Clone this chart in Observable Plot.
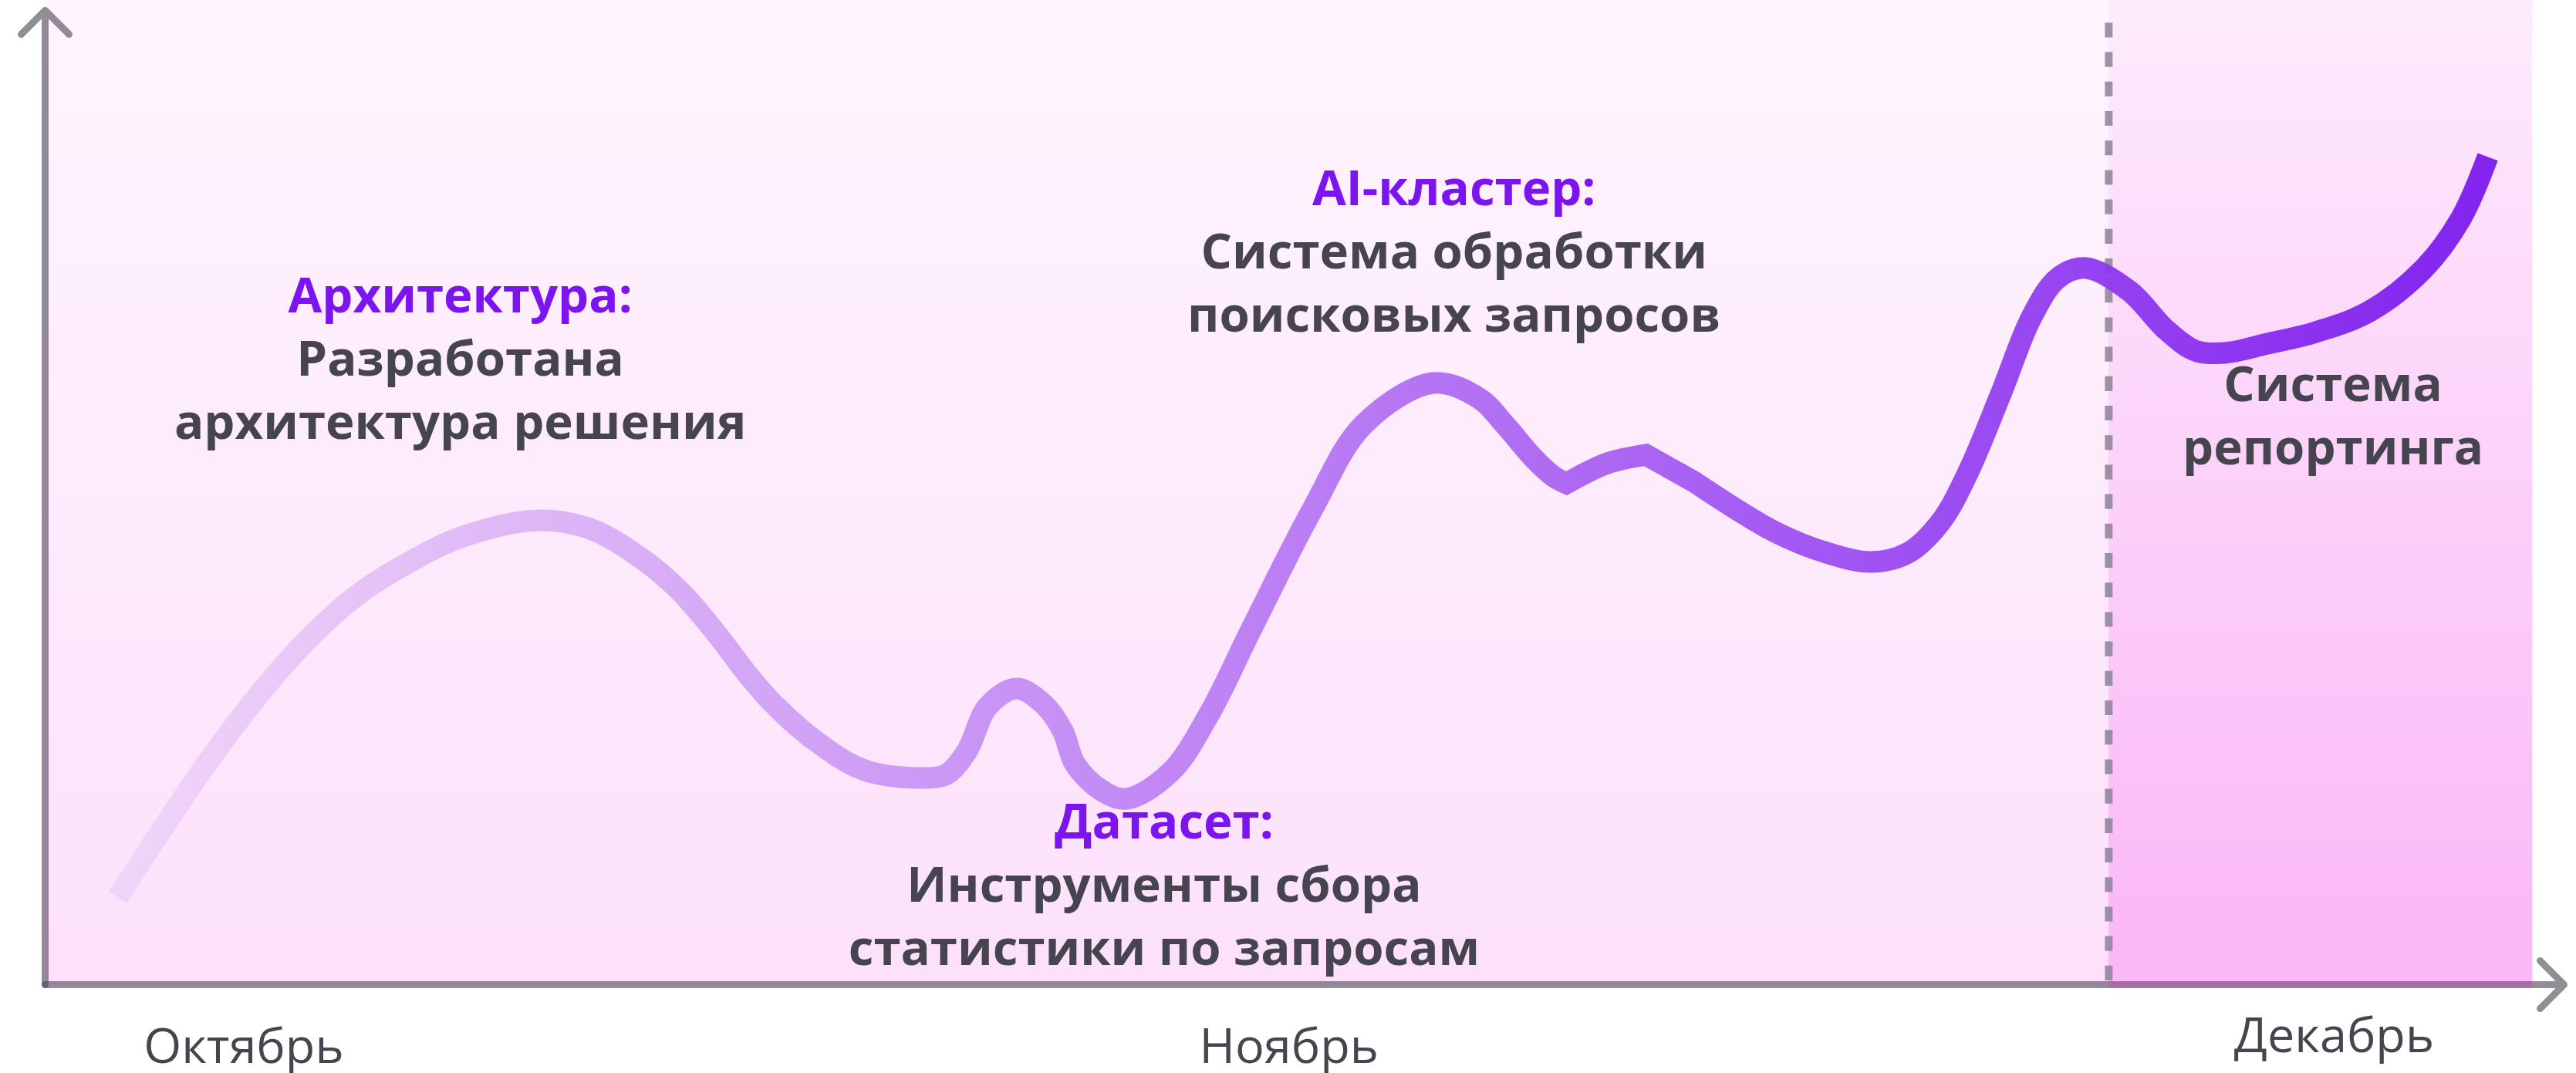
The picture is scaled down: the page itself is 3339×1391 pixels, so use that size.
<!DOCTYPE html>
<html><head><meta charset="utf-8">
<script src="https://cdn.jsdelivr.net/npm/d3@7"></script>
<script src="https://cdn.jsdelivr.net/npm/@observablehq/plot@0.6"></script>
<style>
html,body{margin:0;padding:0;background:#fff;}
#chart svg{display:block;}
</style></head><body><div id="chart"></div>
<script>
// ---- data ----
const monthNames = ["Октябрь", "Ноябрь", "Декабрь"];
const monthX = [0.95, 5.95, 10.95];

const curveX = [0.347,0.561,0.790,1.022,1.251,1.484,1.731,2.000,2.369,2.617,2.860,3.045,3.229,3.355,3.477,3.661,3.920,4.215,4.314,4.410,4.510,4.647,4.779,4.868,4.927,5.053,5.174,5.385,5.569,5.765,6.060,6.307,6.640,6.861,6.983,7.119,7.215,7.278,7.278,7.474,7.658,7.658,7.894,7.894,8.275,8.522,8.736,8.913,9.068,9.197,9.356,9.504,9.629,9.762,9.972,10.146,10.286,10.426,10.633,10.862,11.120,11.382,11.556,11.685];
const curveY = [8.95,15.99,23.20,29.77,35.31,39.83,43.23,46.00,47.66,46.71,43.63,40.22,35.55,31.99,28.98,25.42,22.01,21.22,21.62,23.99,28.58,30.40,28.74,26.05,22.64,19.95,19.08,21.85,27.79,36.26,48.69,57.48,61.76,60.17,57.48,54.08,52.18,51.46,51.46,53.52,54.39,54.39,51.54,51.54,46.48,44.34,43.39,44.34,47.51,52.49,60.65,68.57,72.53,73.56,71.18,67.22,65.08,64.85,65.80,66.98,69.12,73.56,78.62,84.96];

const milestoneTitles = ["Архитектура:", "Датасет:", "AI-кластер:", ""];
const milestoneTexts = ["Разработана\nархитектура решения", "Инструменты сбора\nстатистики по запросам", "Система обработки\nпоисковых запросов", "Система\nрепортинга"];
const milestoneX = [1.986, 5.353, 6.740, 10.945];
const milestoneY = [69.0, 15.0, 80.0, 59.9];

const xDomain = [0, 12.05];
const yDomain = [0, 100];
const forecastStart = 9.872;
const forecastEnd = 11.9;
const planeTop = 101.03;

// ---- derived tables ----
const curve = curveX.map((x, i) => ({x, y: curveY[i]}));
const milestones = milestoneX.map((x, i) => ({
  x, y: milestoneY[i],
  label: milestoneTitles[i] ? milestoneTitles[i] + "\n" + milestoneTexts[i] : milestoneTexts[i]
}));
const months = monthNames.map((name, i) => ({name, x: monthX[i]}));
const axes = [
  {x1: 0, y1: 0, x2: 0, y2: yDomain[1]},
  {x1: 0, y1: 0, x2: xDomain[1], y2: 0}
];

const violet = "#7b14ee";
const ink = "#46444f";
const magenta = "#f000e1";

const defs = () => {
  const d = d3.create("svg:defs");
  const g1 = d.append("linearGradient").attr("id", "curveGrad").attr("x1", 0).attr("x2", 1).attr("y1", 0).attr("y2", 0);
  g1.append("stop").attr("offset", 0).attr("stop-color", "#f0d4f8");
  g1.append("stop").attr("offset", 1).attr("stop-color", "#7a16ee");
  const g2 = d.append("linearGradient").attr("id", "bgGrad").attr("x1", 0).attr("x2", 0).attr("y1", 0).attr("y2", 1);
  g2.append("stop").attr("offset", 0).attr("stop-color", magenta).attr("stop-opacity", 0.04);
  g2.append("stop").attr("offset", 1).attr("stop-color", magenta).attr("stop-opacity", 0.12);
  const g3 = d.append("linearGradient").attr("id", "hlGrad").attr("x1", 0).attr("x2", 0).attr("y1", 0).attr("y2", 1);
  g3.append("stop").attr("offset", 0).attr("stop-color", magenta).attr("stop-opacity", 0.04);
  g3.append("stop").attr("offset", 1).attr("stop-color", magenta).attr("stop-opacity", 0.19);
  return d.node();
};

const fsLabel = 63.5;
const fsMonth = 63;
const labelLine = 82;

const chart = Plot.plot({
  width: 3339,
  height: 1391,
  marginLeft: 58,
  marginRight: 16,
  marginTop: 13,
  marginBottom: 115,
  x: {domain: xDomain, axis: null},
  y: {domain: yDomain, axis: null},
  style: {background: "#ffffff", fontFamily: "'Open Sans', sans-serif", overflow: "visible"},
  marks: [
    defs,
    Plot.arrow(axes, {x1: "x1", y1: "y1", x2: "x2", y2: "y2", stroke: ink, strokeOpacity: 0.6, strokeWidth: 9, headAngle: 90, headLength: 7.3, strokeLinecap: "round", strokeLinejoin: "round"}),
    Plot.rect([{x1: 0, x2: forecastEnd, y1: 0, y2: planeTop}], {x1: "x1", x2: "x2", y1: "y1", y2: "y2", fill: "url(#bgGrad)"}),
    Plot.rect([{x1: forecastStart, x2: forecastEnd, y1: -0.35, y2: planeTop}], {x1: "x1", x2: "x2", y1: "y1", y2: "y2", fill: "url(#hlGrad)"}),
    Plot.ruleX([forecastStart], {y1: 98.7, y2: 0, stroke: "#8a8296", strokeOpacity: 0.85, strokeWidth: 10, strokeDasharray: "19.1 19.1"}),
    Plot.line(curve, {x: "x", y: "y", curve: "catmull-rom", stroke: "url(#curveGrad)", strokeWidth: 28, strokeOpacity: 0.93, strokeLinecap: "butt", strokeLinejoin: "miter", strokeMiterlimit: 4}),
    Plot.text(milestones, {x: "x", y: "y", text: "label", lineAnchor: "top", dy: -0.71 * labelLine, lineHeight: labelLine / fsLabel, fill: ink, fontSize: fsLabel, fontWeight: 700}),
    Plot.text(months.slice(0, 2), {x: "x", y: () => 0, text: "name", lineAnchor: "bottom", dy: 101, fill: ink, fontSize: fsMonth, fontWeight: 400}),
    Plot.text(months.slice(2), {x: "x", y: () => 0, text: "name", lineAnchor: "bottom", dy: 87, fill: ink, fontSize: fsMonth, fontWeight: 400})
  ]
});

// colour the milestone headings (first line of each label)
const titleSet = new Set(milestoneTitles.filter(Boolean));
d3.select(chart).selectAll("text tspan:first-child")
  .filter(function () { return titleSet.has(this.textContent); })
  .attr("fill", violet);

document.getElementById("chart").appendChild(chart);
</script>
</body></html>
